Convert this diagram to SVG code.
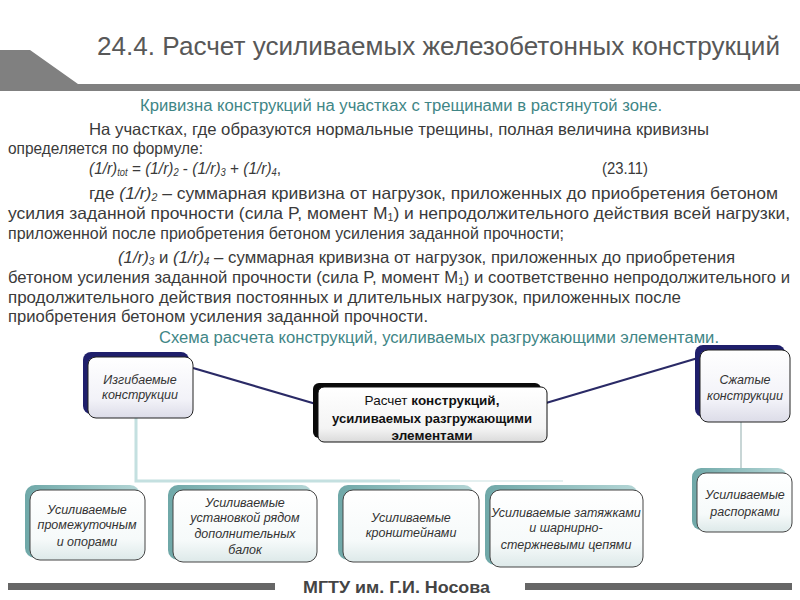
<svg xmlns="http://www.w3.org/2000/svg" width="800" height="600" viewBox="0 0 800 600">
<style>
.t{font-family:"Liberation Sans",Arial,sans-serif;}
.title{font-size:26px;fill:#585858;}
.sub{font-size:16px;fill:#3f8686;}
.b{font-size:16.5px;fill:#3a3a3a;}
.i{font-style:italic;}
.s{font-size:10px;}
.nt{font-size:12.5px;font-style:italic;fill:#333;text-anchor:middle;}
.ct{font-size:13.5px;fill:#111;text-anchor:middle;}
.navy{fill:#1f1f6b;}
.teal{fill:url(#gTeal);}
.topin{fill:url(#gTop);stroke:#222;stroke-width:1;}
.botin{fill:url(#gBot);stroke:#444;stroke-width:1;}
.lnk{stroke:#2a2a66;stroke-width:2.2;fill:none;}
.pale{stroke:#c4e0e0;stroke-width:3;fill:none;}
</style>
<defs>
<linearGradient id="gTop" x1="0" y1="0" x2="0" y2="1">
<stop offset="0" stop-color="#ffffff"/><stop offset="0.7" stop-color="#f2f2f8"/><stop offset="1" stop-color="#dcdce8"/>
</linearGradient>
<linearGradient id="gCen" x1="0" y1="0" x2="0" y2="1">
<stop offset="0" stop-color="#ffffff"/><stop offset="0.75" stop-color="#f4f4f4"/><stop offset="1" stop-color="#dadada"/>
</linearGradient>
<linearGradient id="gBot" x1="0" y1="0" x2="0" y2="1">
<stop offset="0" stop-color="#ffffff"/><stop offset="0.7" stop-color="#f6fafa"/><stop offset="1" stop-color="#dde9e9"/>
</linearGradient>
<linearGradient id="gTeal" x1="0" y1="0" x2="1" y2="0">
<stop offset="0" stop-color="#6fa8a8"/><stop offset="1" stop-color="#b4d6d6"/>
</linearGradient>
</defs>
<rect width="800" height="600" fill="#ffffff"/>

<!-- header -->
<polygon points="0,50 30,50 78,84 800,84 800,91 0,91" fill="#808080"/>
<text class="t title" x="97" y="55" textLength="683" lengthAdjust="spacingAndGlyphs">24.4. Расчет усиливаемых железобетонных конструкций</text>

<!-- body text -->
<text class="t sub" x="140" y="111" textLength="522" lengthAdjust="spacingAndGlyphs">Кривизна конструкций на участках с трещинами в растянутой зоне.</text>
<text class="t b" x="89" y="135" textLength="620" lengthAdjust="spacingAndGlyphs">На участках, где образуются нормальные трещины, полная величина кривизны</text>
<text class="t b" x="8" y="154" textLength="195" lengthAdjust="spacingAndGlyphs">определяется по формуле:</text>
<text class="t b" x="89" y="174" textLength="192" lengthAdjust="spacingAndGlyphs"><tspan class="i">(1/r)</tspan><tspan class="i s" dy="2">tot</tspan><tspan dy="-2"> = </tspan><tspan class="i">(1/r)</tspan><tspan class="i s" dy="2">2</tspan><tspan dy="-2"> - </tspan><tspan class="i">(1/r)</tspan><tspan class="i s" dy="2">3</tspan><tspan dy="-2"> + </tspan><tspan class="i">(1/r)</tspan><tspan class="i s" dy="2">4</tspan><tspan dy="-2">,</tspan></text>
<text class="t b" x="602" y="174" textLength="46" lengthAdjust="spacingAndGlyphs">(23.11)</text>
<text class="t b" x="89" y="199" textLength="689" lengthAdjust="spacingAndGlyphs">где <tspan class="i">(1/r)</tspan><tspan class="i s" dy="2">2</tspan><tspan dy="-2"> – суммарная кривизна от нагрузок, приложенных до приобретения бетоном</tspan></text>
<text class="t b" x="8" y="219" textLength="782" lengthAdjust="spacingAndGlyphs">усилия заданной прочности (сила P, момент M<tspan class="s" dy="2">1</tspan><tspan dy="-2">) и непродолжительного действия всей нагрузки,</tspan></text>
<text class="t b" x="8" y="239" textLength="556" lengthAdjust="spacingAndGlyphs">приложенной после приобретения бетоном усиления заданной прочности;</text>
<text class="t b" x="118" y="263" textLength="617" lengthAdjust="spacingAndGlyphs"><tspan class="i">(1/r)</tspan><tspan class="i s" dy="2">3</tspan><tspan dy="-2"> и </tspan><tspan class="i">(1/r)</tspan><tspan class="i s" dy="2">4</tspan><tspan dy="-2"> – суммарная кривизна от нагрузок, приложенных до приобретения</tspan></text>
<text class="t b" x="8" y="283" textLength="782" lengthAdjust="spacingAndGlyphs">бетоном усиления заданной прочности (сила P, момент M<tspan class="s" dy="2">1</tspan><tspan dy="-2">) и соответственно непродолжительного и</tspan></text>
<text class="t b" x="8" y="303" textLength="673" lengthAdjust="spacingAndGlyphs">продолжительного действия постоянных и длительных нагрузок, приложенных после</text>
<text class="t b" x="8" y="322" textLength="420" lengthAdjust="spacingAndGlyphs">приобретения бетоном усиления заданной прочности.</text>
<text class="t sub" x="159" y="343" textLength="560" lengthAdjust="spacingAndGlyphs">Схема расчета конструкций, усиливаемых разгружающими элементами.</text>

<!-- connectors -->
<g id="connectors">
<line class="lnk" x1="193" y1="368" x2="316" y2="404"/>
<line class="lnk" x1="546" y1="403" x2="698" y2="358"/>
<polyline class="pale" points="136,418 136,481 400,481"/>
<line x1="400" y1="481" x2="563" y2="481" stroke="#e4f0f0" stroke-width="2"/>
<line x1="741" y1="422" x2="741" y2="468" stroke="#c8d6d6" stroke-width="2"/>
</g>

<!-- top nodes -->
<g id="node-bending">
<rect class="navy" x="83" y="352" width="106" height="62" rx="8"/>
<rect class="topin" x="88" y="357" width="105" height="61" rx="8"/>
<text class="t nt" x="140" y="384">Изгибаемые</text>
<text class="t nt" x="140" y="399">конструкции</text>
</g>

<g id="node-center">
<rect x="313" y="383" width="228" height="55" rx="6" fill="#0a0a0a"/>
<rect x="318" y="387" width="229" height="55" rx="6" fill="url(#gCen)" stroke="#111" stroke-width="1"/>
<text class="t ct" x="432" y="405">Расчет <tspan font-weight="bold">конструкций,</tspan></text>
<text class="t ct" x="432" y="423" font-weight="bold" textLength="200" lengthAdjust="spacingAndGlyphs">усиливаемых разгружающими</text>
<text class="t ct" x="432" y="440" font-weight="bold">элементами</text>
</g>

<g id="node-compressed">
<rect class="navy" x="695" y="345" width="90" height="72" rx="8"/>
<rect class="topin" x="700" y="350" width="90" height="72" rx="8"/>
<text class="t nt" x="745" y="384">Сжатые</text>
<text class="t nt" x="745" y="400">конструкции</text>
</g>

<!-- bottom nodes -->
<g id="node-b1">
<rect class="teal" x="25" y="485" width="115" height="73" rx="10"/>
<rect class="botin" x="30" y="490" width="115" height="70" rx="10"/>
<text class="t nt" x="87" y="514">Усиливаемые</text>
<text class="t nt" x="87" y="529">промежуточным</text>
<text class="t nt" x="87" y="546">и опорами</text>
</g>

<g id="node-b2">
<rect class="teal" x="168" y="485" width="144" height="75" rx="10"/>
<rect class="botin" x="173" y="490" width="144" height="72" rx="10"/>
<text class="t nt" x="245" y="507">Усиливаемые</text>
<text class="t nt" x="245" y="522">установкой рядом</text>
<text class="t nt" x="245" y="538">дополнительных</text>
<text class="t nt" x="245" y="554">балок</text>
</g>

<g id="node-b3">
<rect class="teal" x="338" y="485" width="136" height="75" rx="10"/>
<rect class="botin" x="343" y="490" width="136" height="72" rx="10"/>
<text class="t nt" x="411" y="522">Усиливаемые</text>
<text class="t nt" x="411" y="537">кронштейнами</text>
</g>

<g id="node-b4">
<rect class="teal" x="485" y="485" width="153" height="80" rx="10"/>
<rect class="botin" x="490" y="490" width="153" height="77" rx="10"/>
<text class="t nt" x="566" y="517">Усиливаемые затяжками</text>
<text class="t nt" x="566" y="532">и шарнирно-</text>
<text class="t nt" x="566" y="549">стержневыми цепями</text>
</g>

<g id="node-b5">
<rect class="teal" x="692" y="468" width="95" height="62" rx="9"/>
<rect class="botin" x="697" y="473" width="95" height="59" rx="9"/>
<text class="t nt" x="745" y="499">Усиливаемые</text>
<text class="t nt" x="745" y="516">распорками</text>
</g>

<!-- footer -->
<rect x="8" y="583" width="267" height="7" fill="#666"/>
<rect x="525" y="583" width="267" height="7" fill="#666"/>
<text class="t" x="303" y="593" font-size="16" font-weight="bold" fill="#444" textLength="187" lengthAdjust="spacingAndGlyphs">МГТУ им. Г.И. Носова</text>
</svg>
